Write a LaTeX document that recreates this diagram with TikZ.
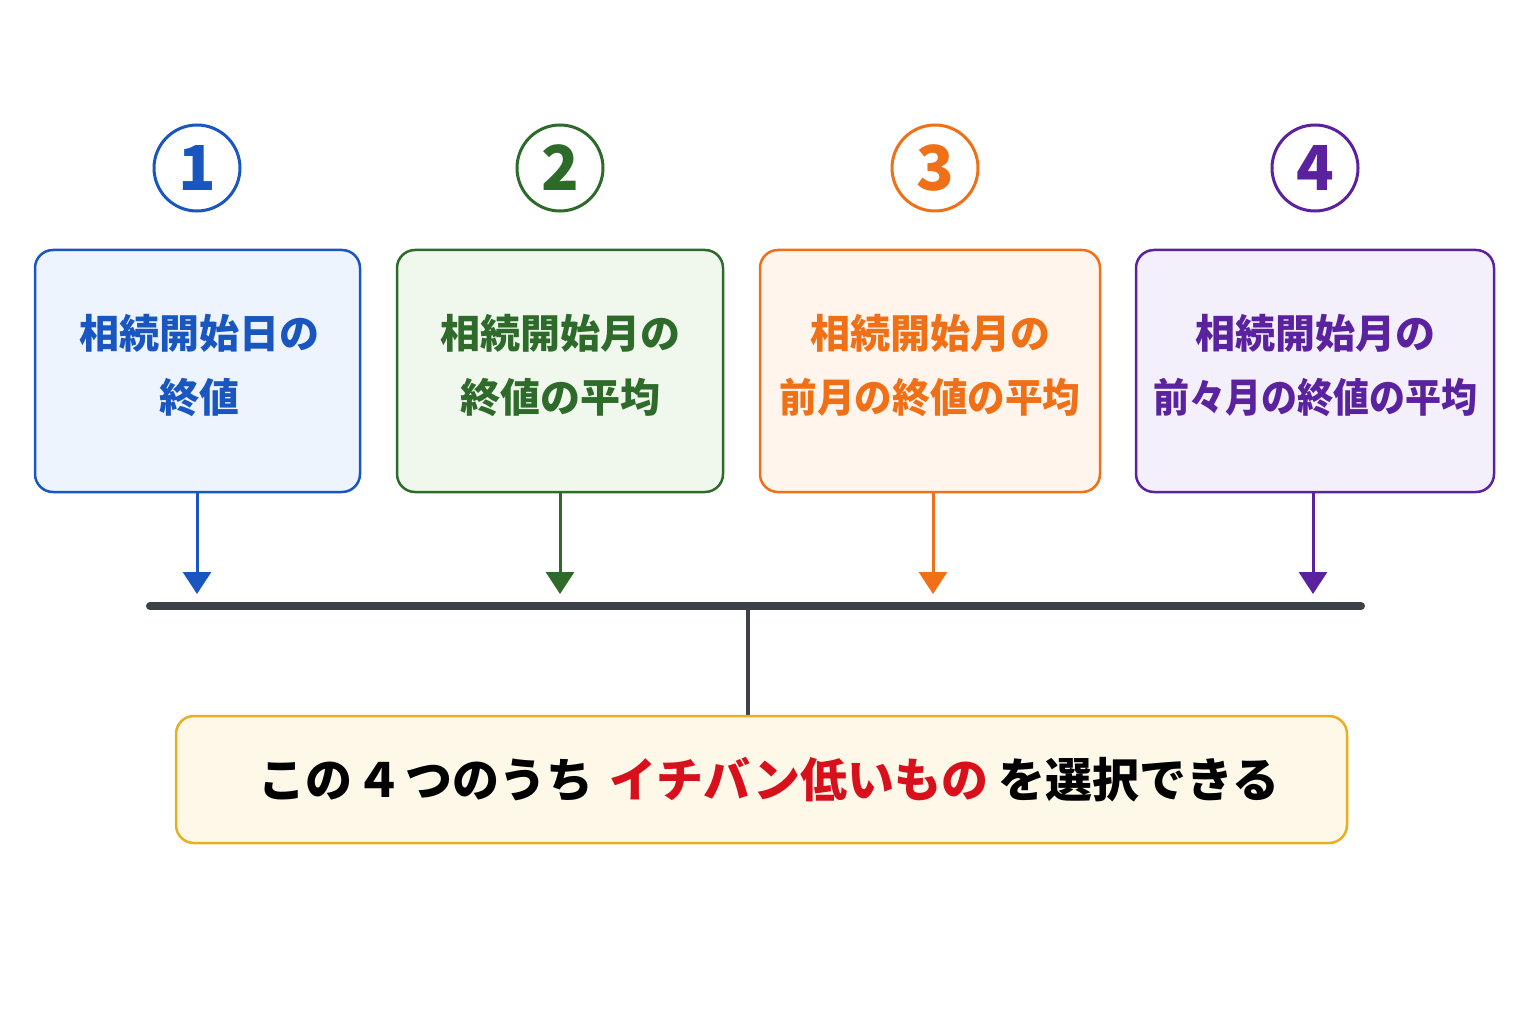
\documentclass[tikz,border=0pt]{standalone}
\usepackage{fontspec}
\newfontfamily\cjk{Noto Sans CJK JP}
\usetikzlibrary{arrows.meta}
\definecolor{cblue}{HTML}{1A56C0}\definecolor{fblue}{HTML}{EEF4FD}
\definecolor{cgreen}{HTML}{2E6B2A}\definecolor{fgreen}{HTML}{F0F8EE}
\definecolor{corange}{HTML}{F07018}\definecolor{forange}{HTML}{FFF5EC}
\definecolor{cpurple}{HTML}{5B22A0}\definecolor{fpurple}{HTML}{F4F0FB}
\definecolor{cbar}{HTML}{3C4248}
\definecolor{cgold}{HTML}{E8B020}\definecolor{fgold}{HTML}{FDF8E8}
\definecolor{cred}{HTML}{D8101C}
\tikzset{
  numc/.style={draw=c#1, text=c#1, circle, line width=3pt, minimum size=86pt, inner sep=0pt, font=\cjk\bfseries\fontsize{62}{62}\selectfont},
  ctext/.style={font=\cjk\bfseries\fontsize{40}{64}\selectfont, align=center},
  cardbox/.style={draw=c#1, fill=f#1, line width=2.5pt, rounded corners=18pt},
  down/.style={draw=#1, line width=3pt, -{Triangle[length=22pt,width=28pt]}},
}
\begin{document}
\begin{tikzpicture}[x=1pt,y=-1pt]
\useasboundingbox (0,0) rectangle (1536,1024);
\fill[white] (0,0) rectangle (1536,1024);
% circles
\node[numc=blue] (n1) at (197,168) {1};
\node[numc=green] (n2) at (560,168) {2};
\node[numc=orange] (n3) at (935,168) {3};
\node[numc=purple] (n4) at (1315,168) {4};
% boxes
\draw[cardbox=blue] (35,250) rectangle (360,492);
\draw[cardbox=green] (397,250) rectangle (723,492);
\draw[cardbox=orange] (760,250) rectangle (1100,492);
\draw[cardbox=purple] (1136,250) rectangle (1494,492);
\node[ctext, text=cblue] (t1) at (199,365) {相続開始日の\\終値};
\node[ctext, text=cgreen] (t2) at (560,365) {相続開始月の\\終値の平均};
\node[ctext, text=corange] (t3) at (930,365) {相続開始月の\\\scalebox{0.94}[1]{前月の終値の平均}};
\node[ctext, text=cpurple] (t4) at (1315,365) {相続開始月の\\\scalebox{0.9}[1]{前々月の終値の平均}};
\coordinate (b1) at (197,492); \coordinate (a1) at (197,594);
\coordinate (b2) at (560,492); \coordinate (a2) at (560,594);
\coordinate (b3) at (933,492); \coordinate (a3) at (933,594);
\coordinate (b4) at (1313,492); \coordinate (a4) at (1313,594);
\draw[down=cblue] (b1) -- (a1);
\draw[down=cgreen] (b2) -- (a2);
\draw[down=corange] (b3) -- (a3);
\draw[down=cpurple] (b4) -- (a4);
% bar
\coordinate (L) at (150,606); \coordinate (R) at (1361,606);
\coordinate (M) at (748,606); \coordinate (MB) at (748,716);
\draw[cbar, line width=4pt] (M) -- (MB);
\draw[cbar, line width=8pt, line cap=round] (L) -- (R);
% bottom
\draw[cardbox=gold] (176,716) rectangle (1347,843);
\node[font=\cjk\bfseries\fontsize{47}{47}\selectfont, text=black] (res) at (769,780) {この\hspace{3pt}４\hspace{3pt}つのうち\hspace{16pt}{\color{cred}イチバン低いもの}\hspace{10pt}を選択できる};
\end{tikzpicture}
\end{document}
